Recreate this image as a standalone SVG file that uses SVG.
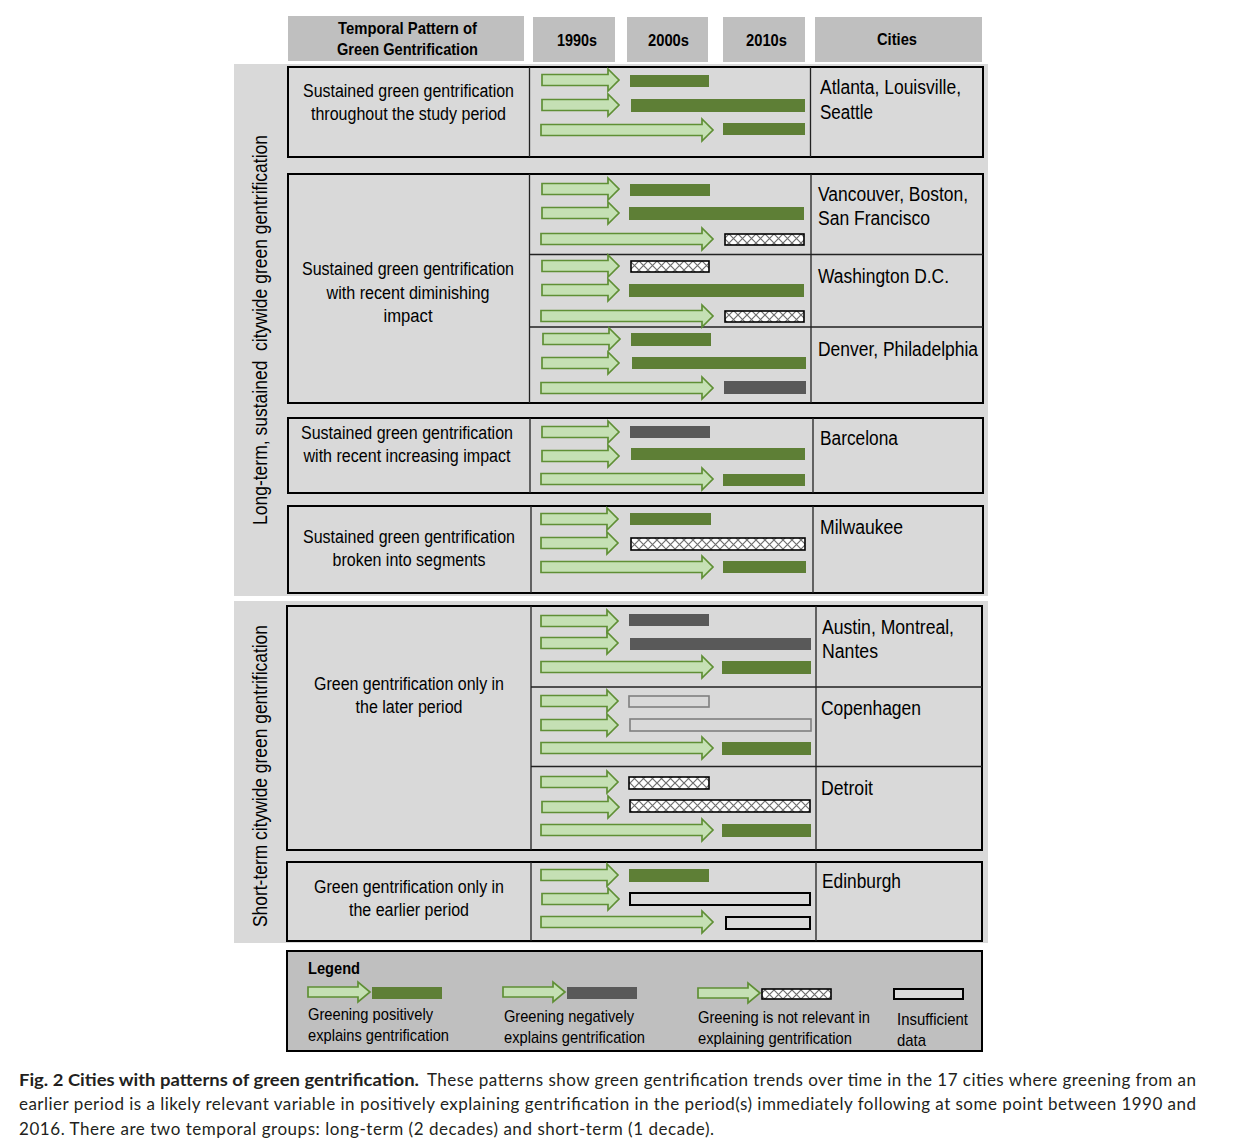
<svg xmlns="http://www.w3.org/2000/svg" xmlns:xlink="http://www.w3.org/1999/xlink" width="1240" height="1142" viewBox="0 0 1240 1142">
<style>
.panel{fill:#d9d9d9}
.hdr{fill:#bfbfbf}
.box{fill:#d9d9d9;stroke:#000;stroke-width:2}
.div{stroke:#222;stroke-width:1.3;fill:none}
.arr{fill:#c5e0b4;stroke:#5f8f35;stroke-width:1.7}
.g{fill:#5e7f36}
.d{fill:#595959}
.h{fill:url(#hatch);stroke:#000;stroke-width:1.6}
.ng{fill:#d9d9d9;stroke:#7f7f7f;stroke-width:1.6}
.nb{fill:#d9d9d9;stroke:#000;stroke-width:2}
.t{font-family:"Liberation Sans Narrow","Arial Narrow","Liberation Sans",Arial,sans-serif;font-size:18px;fill:#000}
.c{font-family:"Liberation Sans Narrow","Arial Narrow","Liberation Sans",Arial,sans-serif;font-size:20px;fill:#000}
.b{font-family:"Liberation Sans Narrow","Arial Narrow","Liberation Sans",Arial,sans-serif;font-size:17px;font-weight:bold;fill:#000}
.l{font-family:"Liberation Sans Narrow","Arial Narrow","Liberation Sans",Arial,sans-serif;font-size:17px;fill:#000}
.cap{font-family:Lato,"Open Sans",sans-serif;font-size:17px;fill:#231f20}
</style>
<defs>
<pattern id="hatch" patternUnits="userSpaceOnUse" width="9" height="9">
<rect width="9" height="9" fill="#fff"/>
<path d="M0,0 L9,9 M9,0 L0,9" stroke="#6e6e6e" stroke-width="1.2"/>
</pattern>
<path id="as" d="M0,-5.5 H66 V-11 L77,0 L66,11 V5.5 H0 Z"/>
<path id="al" d="M0,-5.5 H161 V-11 L172,0 L161,11 V5.5 H0 Z"/>
<path id="ag" d="M0,-5 H50 V-10 L62,0 L50,10 V5 H0 Z"/>
</defs>
<rect width="1240" height="1142" fill="#fff"/>

<g id="header">
<rect class="hdr" x="288" y="16" width="236" height="45"/>
<rect class="hdr" x="533" y="17" width="82" height="45"/>
<rect class="hdr" x="627" y="17" width="81" height="45"/>
<rect class="hdr" x="723" y="17" width="82" height="45"/>
<rect class="hdr" x="815" y="17" width="167" height="45"/>
<text class="b" x="407.5" y="34" text-anchor="middle" textLength="139" lengthAdjust="spacingAndGlyphs">Temporal Pattern of</text>
<text class="b" x="407.5" y="55" text-anchor="middle" textLength="141" lengthAdjust="spacingAndGlyphs">Green Gentrification</text>
<text class="b" x="577" y="46" text-anchor="middle" textLength="40" lengthAdjust="spacingAndGlyphs">1990s</text>
<text class="b" x="668.5" y="46" text-anchor="middle" textLength="41" lengthAdjust="spacingAndGlyphs">2000s</text>
<text class="b" x="766.5" y="46" text-anchor="middle" textLength="41" lengthAdjust="spacingAndGlyphs">2010s</text>
<text class="b" x="897" y="45" text-anchor="middle" textLength="40" lengthAdjust="spacingAndGlyphs">Cities</text>
</g>

<g id="long-term-panel">
<rect class="panel" x="234" y="64" width="754" height="532"/>
<text class="c" transform="translate(267,330) rotate(-90)" text-anchor="middle" textLength="390" lengthAdjust="spacingAndGlyphs" xml:space="preserve">Long-term, sustained  citywide green gentrification</text>
</g>
<g id="short-term-panel">
<rect class="panel" x="234" y="601" width="754" height="342"/>
<text class="c" transform="translate(267,776) rotate(-90)" text-anchor="middle" textLength="302" lengthAdjust="spacingAndGlyphs">Short-term citywide green gentrification</text>
</g>

<g id="row-sustained-throughout">
<rect class="box" x="288" y="67" width="695" height="90"/>
<path class="div" d="M529.5,67 V157 M810.5,67 V157"/>
<text class="t" x="408.5" y="97" text-anchor="middle" textLength="211" lengthAdjust="spacingAndGlyphs">Sustained green gentrification</text>
<text class="t" x="408.5" y="120" text-anchor="middle" textLength="195" lengthAdjust="spacingAndGlyphs">throughout the study period</text>
<text class="c" x="820" y="94" textLength="141" lengthAdjust="spacingAndGlyphs">Atlanta, Louisville,</text>
<text class="c" x="820" y="119" textLength="53" lengthAdjust="spacingAndGlyphs">Seattle</text>
<use href="#as" class="arr" x="542" y="80"/>
<use href="#as" class="arr" x="542" y="105"/>
<use href="#al" class="arr" x="541" y="130"/>
<rect class="g" x="630" y="75" width="79" height="12"/>
<rect class="g" x="631" y="99" width="174" height="13"/>
<rect class="g" x="723" y="123" width="82" height="12"/>
</g>

<g id="row-sustained-diminishing">
<rect class="box" x="288" y="174" width="695" height="229"/>
<path class="div" d="M529.5,174 V403 M811,174 V403 M529.5,254.5 H983 M529.5,327 H983"/>
<text class="t" x="408" y="275" text-anchor="middle" textLength="212" lengthAdjust="spacingAndGlyphs">Sustained green gentrification</text>
<text class="t" x="408" y="299" text-anchor="middle" textLength="163" lengthAdjust="spacingAndGlyphs">with recent diminishing</text>
<text class="t" x="408" y="322" text-anchor="middle" textLength="49" lengthAdjust="spacingAndGlyphs">impact</text>
<text class="c" x="818" y="201" textLength="150" lengthAdjust="spacingAndGlyphs">Vancouver, Boston,</text>
<text class="c" x="818" y="225" textLength="112" lengthAdjust="spacingAndGlyphs">San Francisco</text>
<text class="c" x="818" y="283" textLength="131" lengthAdjust="spacingAndGlyphs">Washington D.C.</text>
<text class="c" x="818" y="356" textLength="160" lengthAdjust="spacingAndGlyphs">Denver, Philadelphia</text>
<use href="#as" class="arr" x="542" y="189"/>
<use href="#as" class="arr" x="542" y="213"/>
<use href="#al" class="arr" x="541" y="239"/>
<rect class="g" x="630" y="184" width="80" height="12"/>
<rect class="g" x="629" y="207" width="175" height="13"/>
<rect class="h" x="725" y="234" width="79" height="11"/>
<use href="#as" class="arr" x="542" y="266"/>
<use href="#as" class="arr" x="542" y="290"/>
<use href="#al" class="arr" x="541" y="316"/>
<rect class="h" x="631" y="261" width="78" height="11"/>
<rect class="g" x="629" y="284" width="175" height="13"/>
<rect class="h" x="725" y="311" width="79" height="11"/>
<use href="#as" class="arr" x="543" y="339"/>
<use href="#as" class="arr" x="542" y="363"/>
<use href="#al" class="arr" x="541" y="388"/>
<rect class="g" x="631" y="333" width="80" height="13"/>
<rect class="g" x="632" y="357" width="174" height="12"/>
<rect class="d" x="724" y="381" width="82" height="13"/>
</g>

<g id="row-sustained-increasing">
<rect class="box" x="288" y="418" width="695" height="75"/>
<path class="div" d="M530,418 V493 M813,418 V493"/>
<text class="t" x="407" y="439" text-anchor="middle" textLength="212" lengthAdjust="spacingAndGlyphs">Sustained green gentrification</text>
<text class="t" x="407" y="462" text-anchor="middle" textLength="207" lengthAdjust="spacingAndGlyphs">with recent increasing impact</text>
<text class="c" x="820" y="445" textLength="78" lengthAdjust="spacingAndGlyphs">Barcelona</text>
<use href="#as" class="arr" x="542" y="432"/>
<use href="#as" class="arr" x="542" y="456"/>
<use href="#al" class="arr" x="541" y="479"/>
<rect class="d" x="630" y="426" width="80" height="12"/>
<rect class="g" x="631" y="448" width="174" height="12"/>
<rect class="g" x="723" y="474" width="82" height="12"/>
</g>

<g id="row-sustained-segments">
<rect class="box" x="288" y="506" width="695" height="87"/>
<path class="div" d="M531,506 V593 M813,506 V593"/>
<text class="t" x="409" y="543" text-anchor="middle" textLength="212" lengthAdjust="spacingAndGlyphs">Sustained green gentrification</text>
<text class="t" x="409" y="566" text-anchor="middle" textLength="153" lengthAdjust="spacingAndGlyphs">broken into segments</text>
<text class="c" x="820" y="534" textLength="83" lengthAdjust="spacingAndGlyphs">Milwaukee</text>
<use href="#as" class="arr" x="541" y="519"/>
<use href="#as" class="arr" x="541" y="543"/>
<use href="#al" class="arr" x="541" y="567"/>
<rect class="g" x="630" y="513" width="81" height="12"/>
<rect class="h" x="631" y="538" width="174" height="12"/>
<rect class="g" x="723" y="561" width="83" height="12"/>
</g>

<g id="row-later-period">
<rect class="box" x="287" y="606" width="695" height="244"/>
<path class="div" d="M531,606 V850 M816,606 V850 M531,687 H982 M531,766.5 H982"/>
<text class="t" x="409" y="690" text-anchor="middle" textLength="190" lengthAdjust="spacingAndGlyphs">Green gentrification only in</text>
<text class="t" x="409" y="713" text-anchor="middle" textLength="107" lengthAdjust="spacingAndGlyphs">the later period</text>
<text class="c" x="822" y="634" textLength="132" lengthAdjust="spacingAndGlyphs">Austin, Montreal,</text>
<text class="c" x="822" y="658" textLength="56" lengthAdjust="spacingAndGlyphs">Nantes</text>
<text class="c" x="821" y="715" textLength="100" lengthAdjust="spacingAndGlyphs">Copenhagen</text>
<text class="c" x="821" y="795" textLength="52" lengthAdjust="spacingAndGlyphs">Detroit</text>
<use href="#as" class="arr" x="541" y="621"/>
<use href="#as" class="arr" x="541" y="643"/>
<use href="#al" class="arr" x="541" y="667"/>
<rect class="d" x="629" y="614" width="80" height="12"/>
<rect class="d" x="630" y="638" width="181" height="12"/>
<rect class="g" x="722" y="661" width="89" height="13"/>
<use href="#as" class="arr" x="541" y="701"/>
<use href="#as" class="arr" x="541" y="725"/>
<use href="#al" class="arr" x="541" y="748"/>
<rect class="ng" x="629" y="696" width="80" height="11"/>
<rect class="ng" x="630" y="719" width="181" height="12"/>
<rect class="g" x="722" y="742" width="89" height="13"/>
<use href="#as" class="arr" x="541" y="782"/>
<use href="#as" class="arr" x="542" y="807"/>
<use href="#al" class="arr" x="541" y="830"/>
<rect class="h" x="629" y="777" width="80" height="12"/>
<rect class="h" x="630" y="800" width="180" height="12"/>
<rect class="g" x="722" y="824" width="89" height="13"/>
</g>

<g id="row-earlier-period">
<rect class="box" x="287" y="862" width="695" height="79"/>
<path class="div" d="M531,862 V941 M816,862 V941"/>
<text class="t" x="409" y="893" text-anchor="middle" textLength="190" lengthAdjust="spacingAndGlyphs">Green gentrification only in</text>
<text class="t" x="409" y="916" text-anchor="middle" textLength="120" lengthAdjust="spacingAndGlyphs">the earlier period</text>
<text class="c" x="822" y="888" textLength="79" lengthAdjust="spacingAndGlyphs">Edinburgh</text>
<use href="#as" class="arr" x="541" y="875"/>
<use href="#as" class="arr" x="542" y="899"/>
<use href="#al" class="arr" x="541" y="922"/>
<rect class="g" x="629" y="869" width="80" height="13"/>
<rect class="nb" x="630" y="893" width="180" height="12"/>
<rect class="nb" x="726" y="917" width="84" height="12"/>
</g>

<g id="legend">
<rect x="287" y="951" width="695" height="100" fill="#bfbfbf" stroke="#000" stroke-width="2"/>
<text class="b" x="308" y="974" textLength="52" lengthAdjust="spacingAndGlyphs">Legend</text>
<use href="#ag" class="arr" x="308" y="992"/>
<rect class="g" x="372" y="987" width="70" height="12"/>
<text class="l" x="308" y="1020" textLength="125" lengthAdjust="spacingAndGlyphs">Greening positively</text>
<text class="l" x="308" y="1041" textLength="141" lengthAdjust="spacingAndGlyphs">explains gentrification</text>
<use href="#ag" class="arr" x="503" y="992"/>
<rect class="d" x="567" y="987" width="70" height="12"/>
<text class="l" x="504" y="1022" textLength="130" lengthAdjust="spacingAndGlyphs">Greening negatively</text>
<text class="l" x="504" y="1043" textLength="141" lengthAdjust="spacingAndGlyphs">explains gentrification</text>
<use href="#ag" class="arr" x="698" y="993"/>
<rect class="h" x="762" y="989" width="69" height="10"/>
<text class="l" x="698" y="1023" textLength="172" lengthAdjust="spacingAndGlyphs">Greening is not relevant in</text>
<text class="l" x="698" y="1044" textLength="154" lengthAdjust="spacingAndGlyphs">explaining gentrification</text>
<rect class="nb" x="894" y="989" width="69" height="10"/>
<text class="l" x="897" y="1025" textLength="71" lengthAdjust="spacingAndGlyphs">Insufficient</text>
<text class="l" x="897" y="1046" textLength="29" lengthAdjust="spacingAndGlyphs">data</text>
</g>

<g id="caption">
<text class="cap" x="19" y="1086" font-weight="bold" textLength="400" lengthAdjust="spacingAndGlyphs">Fig. 2 Cities with patterns of green gentrification.</text>
<text class="cap" x="427" y="1086" textLength="769" lengthAdjust="spacing">These patterns show green gentrification trends over time in the 17 cities where greening from an</text>
<text class="cap" x="19" y="1110" textLength="1177" lengthAdjust="spacing">earlier period is a likely relevant variable in positively explaining gentrification in the period(s) immediately following at some point between 1990 and</text>
<text class="cap" x="19" y="1135" textLength="695" lengthAdjust="spacing">2016. There are two temporal groups: long-term (2 decades) and short-term (1 decade).</text>
</g>
</svg>
